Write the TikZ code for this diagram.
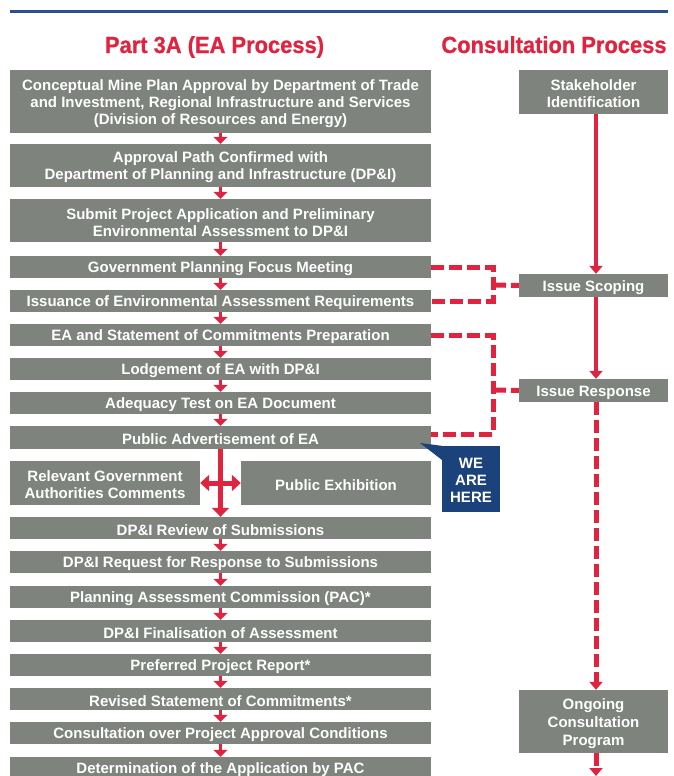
\documentclass[tikz,border=0pt]{standalone}
\usepackage{fontspec}
\setmainfont{Liberation Sans}
\newfontfamily\titlefont{Liberation Sans}[BoldFeatures={FakeBold=0.8, FakeStretch=0.94}]
\usetikzlibrary{arrows.meta}
\definecolor{boxgray}{HTML}{7E837E}
\definecolor{flowred}{HTML}{E0233F}
\definecolor{navy}{HTML}{1C427C}
\definecolor{lineblue}{HTML}{2D4F8F}
\tikzset{
  box/.style={fill=boxgray, inner sep=0pt, anchor=center},
  lbox/.style={box, minimum width=421pt},
  rbox/.style={box, minimum width=149pt},
  hbox/.style={box, minimum width=190pt, minimum height=44pt},
  boxtext/.style={text=white, font=\bfseries\fontsize{15}{17}\selectfont,
    align=center, inner sep=0pt, anchor=center},
  title/.style={text=flowred, font=\titlefont\bfseries\fontsize{23.3}{25}\selectfont,
    inner sep=0pt, anchor=base},
  smallarrow/.style={draw=flowred, line width=3pt, -{Triangle[width=14pt,length=7pt]}},
  bigarrow/.style={draw=flowred, line width=5pt},
  solidarrow/.style={draw=flowred, line width=4pt, -{Triangle[width=13pt,length=8pt]}},
  dashline/.style={draw=flowred, line width=5pt, dash pattern=on 13pt off 5pt},
  dasharrow/.style={dashline, -{Triangle[width=13pt,length=8pt]}},
  callout/.style={fill=navy, inner sep=0pt, minimum width=58pt, minimum height=66pt},
}
% box with its text set 2pt lower than the geometric centre
\newcommand{\bxn}[4][]{%
  \node[#1] (#2) at #3 {};
  \node[boxtext] (#2-text) at ([yshift=-2pt]#2.center) {#4};}
\begin{document}
\begin{tikzpicture}[x=1pt,y=1pt]
\clip (0,0) rectangle (673,-776);
\fill[white] (0,0) rectangle (673,-776);

\coordinate (tl) at (10,-12);
\coordinate (tr) at (668,-12);
\draw[lineblue, line width=3pt] (tl) -- (tr);

\node[title] (t1) at (214.5,-53) {Part 3A (EA Process)};
\node[title] (t2) at (554,-53) {Consultation Process};

% left column
\bxn[lbox, minimum height=63pt]{b1}{(220.5,-101.5)}{Conceptual Mine Plan Approval by Department of Trade\\and Investment, Regional Infrastructure and Services\\(Division of Resources and Energy)}
\bxn[lbox, minimum height=43pt]{b2}{(220.5,-165.5)}{Approval Path Confirmed with\\Department of Planning and Infrastructure (DP\&I)}
\bxn[lbox, minimum height=43pt]{b3}{(220.5,-220.5)}{Submit Project Application and Preliminary\\Environmental Assessment to DP\&I}
\bxn[lbox, minimum height=22pt]{b4}{(220.5,-267)}{Government Planning Focus Meeting}
\bxn[lbox, minimum height=22pt]{b5}{(220.5,-301)}{Issuance of Environmental Assessment Requirements}
\bxn[lbox, minimum height=22pt]{b6}{(220.5,-335)}{EA and Statement of Commitments Preparation}
\bxn[lbox, minimum height=22pt]{b7}{(220.5,-369)}{Lodgement of EA with DP\&I}
\bxn[lbox, minimum height=22pt]{b8}{(220.5,-403)}{Adequacy Test on EA Document}
\bxn[lbox, minimum height=23pt]{b9}{(220.5,-437.5)}{Public Advertisement of EA}
\bxn[hbox]{b10a}{(105,-483)}{Relevant Government\\Authorities Comments}
\bxn[hbox]{b10b}{(336,-483)}{Public Exhibition}
\bxn[lbox, minimum height=22pt]{b11}{(220.5,-528)}{DP\&I Review of Submissions}
\bxn[lbox, minimum height=22pt]{b12}{(220.5,-562)}{DP\&I Request for Response to Submissions}
\bxn[lbox, minimum height=22pt]{b13}{(220.5,-597)}{Planning Assessment Commission (PAC)*}
\bxn[lbox, minimum height=22pt]{b14}{(220.5,-631)}{DP\&I Finalisation of Assessment}
\bxn[lbox, minimum height=22pt]{b15}{(220.5,-665)}{Preferred Project Report*}
\bxn[lbox, minimum height=22pt]{b16}{(220.5,-699)}{Revised Statement of Commitments*}
\bxn[lbox, minimum height=22pt]{b17}{(220.5,-733)}{Consultation over Project Approval Conditions}
\bxn[lbox, minimum height=22pt]{b18}{(220.5,-768)}{Determination of the Application by PAC}

% right column
\bxn[rbox, minimum height=44pt]{r1}{(593.5,-92)}{Stakeholder\\Identification}
\bxn[rbox, minimum height=23pt]{r2}{(593.5,-285.5)}{Issue Scoping}
\bxn[rbox, minimum height=23pt]{r3}{(593.5,-390.5)}{Issue Response}
\node[rbox, minimum height=63pt] (r4) at (593.5,-721.5) {};
\node[boxtext, font=\bfseries\fontsize{15}{18}\selectfont] (r4-text) at ([yshift=-2pt]r4.center) {Ongoing\\Consultation\\Program};

% left arrows
\foreach \a/\b in {b1/b2,b2/b3,b3/b4,b4/b5,b5/b6,b6/b7,b7/b8,b8/b9,b11/b12,b12/b13,b13/b14,b14/b15,b15/b16,b16/b17,b17/b18}
  \draw[smallarrow] (\a.south) -- (\b.north);

% cross arrow
\draw[bigarrow, -{Triangle[width=17pt,length=9pt]}] (b9.south) -- (b11.north);
\draw[bigarrow, {Triangle[width=16pt,length=9pt]}-{Triangle[width=16pt,length=9pt]}] (b10a.east) -- (b10b.west);

% dashed connectors
\coordinate (k1) at (493,-285);
\coordinate (k2) at (493,-390);
\draw[dashline] (b4.east) -| (k1) |- (b5.east);
\draw[dashline] (k1) -- (r2.west);
\draw[dashline] (b6.east) -| (k2) |- ([yshift=3pt]b9.east);
\draw[dashline] (k2) -- (r3.west);

% right arrows
\draw[solidarrow] ([xshift=2.5pt]r1.south) -- ([xshift=2.5pt]r2.north);
\draw[solidarrow] ([xshift=2.5pt]r2.south) -- ([xshift=2.5pt]r3.north);
\draw[dasharrow] ([xshift=2.5pt]r3.south) -- ([xshift=2.5pt]r4.north);
\coordinate (rend) at (596,-776);
\draw[dasharrow] ([xshift=2.5pt]r4.south) -- (rend);

% callout
\node[callout] (here) at (471,-479) {};
\node[boxtext] (here-text) at ([yshift=-1pt]here.center) {WE\\ARE\\HERE};
\coordinate (tip) at (420,-443);
\fill[navy] (tip) -- (here.north west) -- ([yshift=-14pt]here.north west) -- cycle;
\end{tikzpicture}
\end{document}
